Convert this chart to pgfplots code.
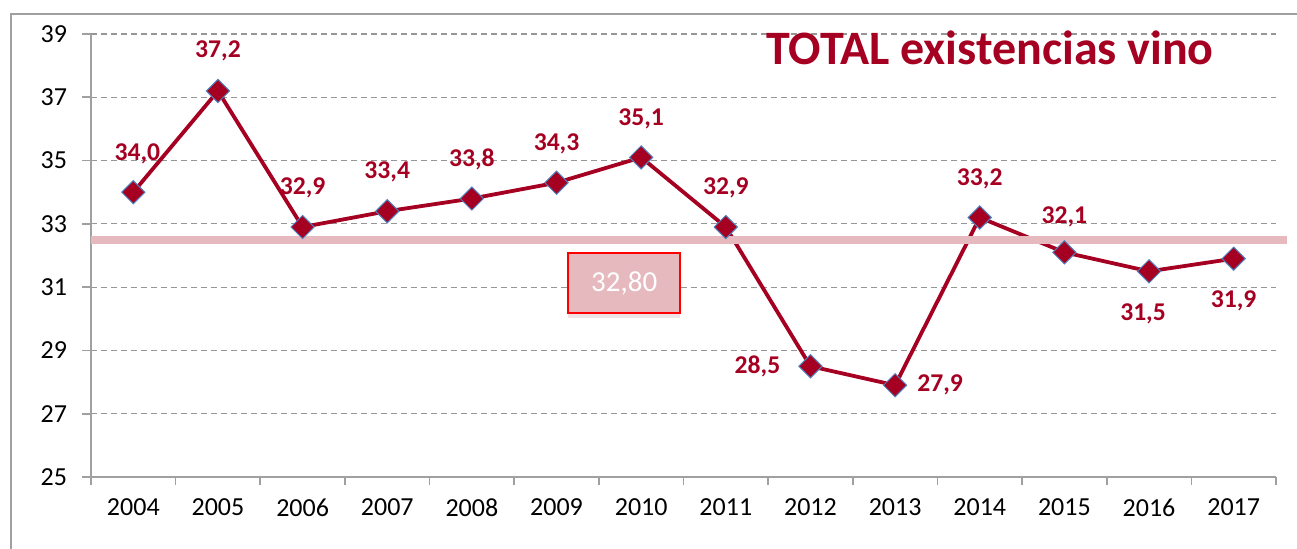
\documentclass[border=0pt]{standalone}
\usepackage{fontspec}
\setmainfont{Carlito}
\usepackage{pgfplots}
\pgfplotsset{compat=1.18}
\usetikzlibrary{shadows}
\definecolor{wine}{RGB}{165,0,33}
\definecolor{avgpink}{RGB}{230,185,191}
\definecolor{gridgray}{RGB}{150,150,150}
\definecolor{axgray}{RGB}{160,160,160}
\definecolor{mkblue}{RGB}{79,129,189}
\tikzset{lbl/.style={font=\fontsize{12.8}{14}\selectfont\bfseries, text=wine}}

\begin{document}
\begin{tikzpicture}
\begin{axis}[
  at={(0,0)}, anchor=south west,
  scale only axis, width=592.5pt, height=221.5pt,
  xmin=-0.5, xmax=13.5, ymin=25, ymax=39,
  xtick={0,...,13},
  xticklabels={2004,2005,2006,2007,2008,2009,2010,2011,2012,2013,2014,2015,2016,2017},
  minor xtick={-0.5,0.5,...,13.5},
  ytick={25,27,...,39},
  axis x line*=bottom, axis y line*=left,
  axis line style={axgray, line width=0.8pt},
  tick align=outside,
  major x tick style={draw=none},
  minor tick length=4pt, major tick length=4.5pt,
  tick style={axgray, line width=0.8pt},
  ymajorgrids, grid style={gridgray, line width=0.6pt, dash pattern=on 3pt off 2pt},
  tick label style={font=\fontsize{13}{15}\selectfont, black},
  /pgf/number format/assume math mode=true,
  yticklabel style={xshift=-4pt},
  xticklabel style={yshift=-3pt},
  clip=false,
]
% data series
\addplot[wine, line width=1.9pt, mark=square*, mark size=4.1pt,
  mark options={rotate=45, fill=wine, draw=mkblue, line width=0.5pt}] coordinates {
  (0,34.0)(1,37.2)(2,32.9)(3,33.4)(4,33.8)(5,34.3)(6,35.1)
  (7,32.9)(8,28.5)(9,27.9)(10,33.2)(11,32.1)(12,31.5)(13,31.9)};
% average line
\addplot[avgpink, line width=4pt] coordinates {(-0.5,32.5)(13.63,32.5)};
% value labels
\node[lbl, xshift=2pt, yshift=19pt] at (axis cs:0,34.0) {34,0};
\node[lbl, yshift=20pt] at (axis cs:1,37.2) {37,2};
\node[lbl, yshift=19.5pt] at (axis cs:2,32.9) {32,9};
\node[lbl, yshift=19.5pt] at (axis cs:3,33.4) {33,4};
\node[lbl, yshift=19.5pt] at (axis cs:4,33.8) {33,8};
\node[lbl, yshift=19.5pt] at (axis cs:5,34.3) {34,3};
\node[lbl, yshift=19.5pt] at (axis cs:6,35.1) {35,1};
\node[lbl, yshift=19.5pt] at (axis cs:7,32.9) {32,9};
\node[lbl, xshift=-26.5pt] at (axis cs:8,28.5) {28,5};
\node[lbl, xshift=22.5pt] at (axis cs:9,27.9) {27,9};
\node[lbl, yshift=19.5pt] at (axis cs:10,33.2) {33,2};
\node[lbl, yshift=18pt] at (axis cs:11,32.1) {32,1};
\node[lbl, xshift=-3pt, yshift=-21.5pt] at (axis cs:12,31.5) {31,5};
\node[lbl, yshift=-21pt] at (axis cs:13,31.9) {31,9};
% average box
\node[draw=red, line width=1pt, fill=avgpink, text=white,
  minimum width=56pt, minimum height=30pt,
  font=\fontsize{14.5}{16}\selectfont,
  drop shadow={shadow xshift=0pt, shadow yshift=-2.5pt, opacity=0.35, fill=avgpink!80!gray}]
  at (axis cs:5.8,31.13) {32,80};
\end{axis}
% title
\node[font=\fontsize{24}{27}\selectfont\bfseries, text=wine] at (449.5pt,214.5pt) {TOTAL existencias vino};
% chart border
\draw[axgray, line width=1pt] (-40pt,-40pt) -- (-40pt,231.5pt) -- (610pt,231.5pt);
\pgfresetboundingbox
\path[use as bounding box] (-45.5pt,-35.5pt) rectangle (603pt,238.5pt);
\end{tikzpicture}
\end{document}
